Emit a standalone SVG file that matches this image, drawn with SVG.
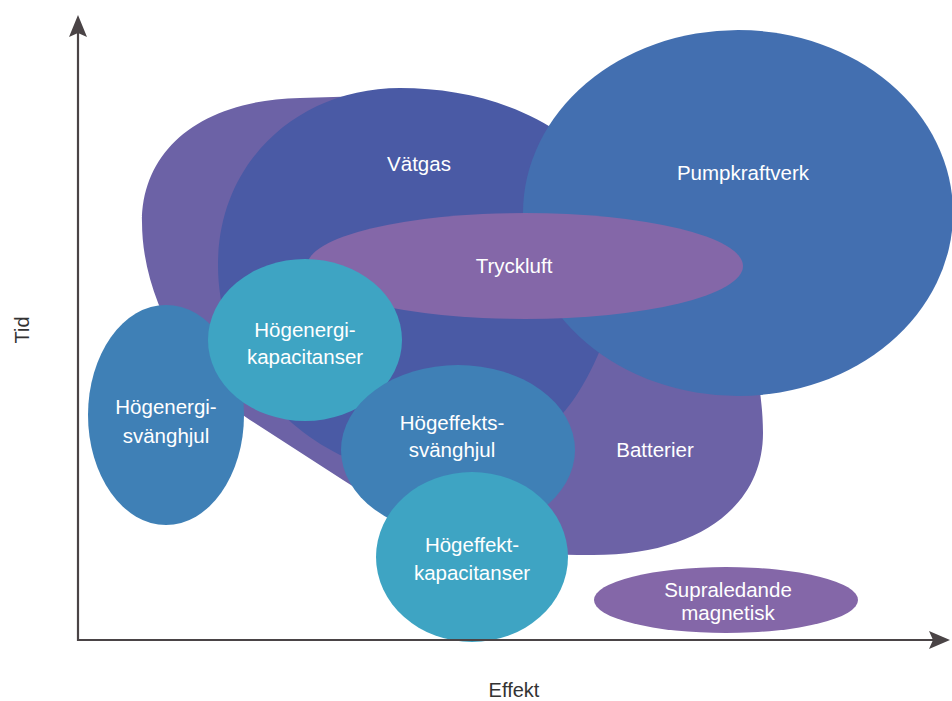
<svg xmlns="http://www.w3.org/2000/svg" width="952" height="701" viewBox="0 0 952 701">
<style>
.lbl{font-family:"Liberation Sans",Arial,sans-serif;font-size:20.5px;fill:#ffffff;text-anchor:middle}
.ax{font-family:"Liberation Sans",Arial,sans-serif;font-size:20px;fill:#333333;text-anchor:middle}
.purple{fill:#6c62a6}
.navy{fill:#4a5aa5}
.blue{fill:#436fb0}
.lilac{fill:#8467a8}
.teal{fill:#3ea4c3}
.mid{fill:#3f80b6}
.axis{stroke:#4a4446;stroke-width:2.2;fill:none}
.head{fill:#4a4446}
</style>
<rect width="952" height="701" fill="#ffffff"/>
<g id="batterier">
<path class="purple" d="M300,98 C200,100 142,150 142,222 C142,300 190,380 250,420 L343,480 C420,530 500,556 593,555 C700,555 763,505 763,433 C763,410 760,395 760,390 L700,200 L400,95 Z"/>
<text class="lbl" x="655" y="457">Batterier</text>
</g>
<g id="vatgas">
<path class="navy" d="M218,265 C218,160 300,88 400,88 C480,88 560,115 610,180 L620,300 C612,330 600,350 600,350 C590,375 575,400 563,413 L450,470 C400,470 360,460 340,455 C270,420 218,350 218,265 Z"/>
<text class="lbl" x="419" y="171">Vätgas</text>
</g>
<g id="pumpkraftverk">
<ellipse class="blue" cx="738" cy="213" rx="215" ry="183"/>
<text class="lbl" x="743" y="180">Pumpkraftverk</text>
</g>
<g id="tryckluft">
<ellipse class="lilac" cx="525" cy="266" rx="218" ry="53"/>
<text class="lbl" x="514" y="273">Tryckluft</text>
</g>
<g id="hogenergi-svanghjul">
<ellipse class="mid" cx="166" cy="415" rx="78" ry="110"/>
<text class="lbl" x="166" y="414">Högenergi-</text>
<text class="lbl" x="166" y="443">svänghjul</text>
</g>
<g id="hogenergi-kapacitanser">
<ellipse class="teal" cx="305" cy="340" rx="97" ry="81"/>
<text class="lbl" x="305" y="337">Högenergi-</text>
<text class="lbl" x="305" y="364">kapacitanser</text>
</g>
<g id="hogeffekts-svanghjul">
<ellipse class="mid" cx="458" cy="450" rx="117" ry="85"/>
<text class="lbl" x="452" y="430">Högeffekts-</text>
<text class="lbl" x="452" y="457">svänghjul</text>
</g>
<g id="hogeffekt-kapacitanser">
<ellipse class="teal" cx="472" cy="557" rx="96" ry="85"/>
<text class="lbl" x="472" y="552">Högeffekt-</text>
<text class="lbl" x="472" y="580">kapacitanser</text>
</g>
<g id="supraledande">
<ellipse class="lilac" cx="726" cy="600" rx="132" ry="33"/>
<text class="lbl" x="728" y="597">Supraledande</text>
<text class="lbl" x="728" y="620">magnetisk</text>
</g>
<g id="axes">
<path class="axis" d="M78,641 L78,32 M77,640 L933,640"/>
<path class="head" d="M78,15 L87,37 L78,33 L69,37 Z"/>
<path class="head" d="M950,640 L929,631 L933,640 L929,649 Z"/>
<text class="ax" x="29" y="330" transform="rotate(-90 29 330)">Tid</text>
<text class="ax" x="514" y="697">Effekt</text>
</g>
</svg>
